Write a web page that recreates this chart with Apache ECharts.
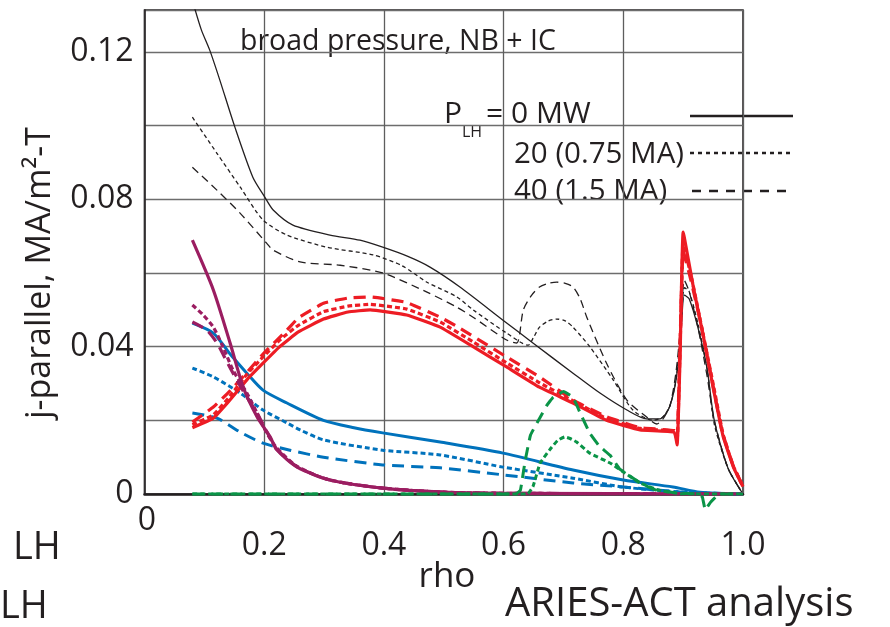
<!DOCTYPE html>
<html><head><meta charset="utf-8">
<script src="https://cdn.jsdelivr.net/npm/echarts@6/dist/echarts.min.js"></script>
<style>html,body{margin:0;padding:0;background:#fff}#c{width:890px;height:627px}</style>
</head><body><div id="c"></div>
<script>
// ---- data: [rho, j-parallel (MA/m^2-T)] ----
const blackSolid = [[0.08,0.134],[0.095,0.126],[0.109,0.1205],[0.126,0.1123],[0.151,0.0996],[0.181,0.086],[0.201,0.0806],[0.215,0.0771],[0.248,0.073],[0.31,0.0703],[0.36,0.0689],[0.398,0.067],[0.44,0.0645],[0.477,0.0616],[0.527,0.0562],[0.599,0.0472],[0.649,0.041],[0.716,0.0328],[0.761,0.0274],[0.806,0.0228],[0.839,0.0204],[0.861,0.0204],[0.875,0.0228],[0.886,0.029],[0.895,0.04],[0.902,0.054],[0.91,0.053],[0.925,0.045],[0.94,0.034],[0.952,0.02],[0.975,0.007],[1.0,0]];
const blackDotted = [[0.08,0.1023],[0.121,0.0925],[0.16,0.0833],[0.198,0.0744],[0.238,0.0703],[0.305,0.067],[0.382,0.0649],[0.43,0.062],[0.472,0.0575],[0.522,0.0535],[0.549,0.05],[0.605,0.0437],[0.641,0.0404],[0.65,0.0425],[0.66,0.0453],[0.675,0.047],[0.689,0.0475],[0.703,0.047],[0.716,0.0453],[0.744,0.04],[0.783,0.031],[0.816,0.0228],[0.85,0.02],[0.866,0.0209],[0.878,0.024],[0.888,0.031],[0.896,0.044],[0.902,0.056],[0.91,0.055],[0.925,0.046],[0.94,0.034],[0.952,0.019],[0.975,0.007],[1.0,0]];
const blackDashed = [[0.08,0.0887],[0.121,0.0825],[0.16,0.0762],[0.204,0.0681],[0.215,0.0662],[0.26,0.063],[0.327,0.0621],[0.398,0.06],[0.472,0.0548],[0.522,0.0507],[0.549,0.048],[0.605,0.0418],[0.622,0.041],[0.633,0.05],[0.647,0.054],[0.66,0.0562],[0.675,0.0572],[0.689,0.0575],[0.703,0.0572],[0.716,0.0562],[0.728,0.053],[0.739,0.048],[0.772,0.0355],[0.806,0.0255],[0.839,0.0209],[0.856,0.019],[0.866,0.0203],[0.878,0.024],[0.888,0.033],[0.896,0.046],[0.902,0.058],[0.91,0.055],[0.925,0.045],[0.94,0.032],[0.952,0.02],[0.975,0.007],[1.0,0]];
const redSolid = [[0.08,0.018],[0.115,0.0206],[0.14,0.025],[0.171,0.031],[0.198,0.0355],[0.226,0.04],[0.257,0.044],[0.299,0.0475],[0.34,0.0494],[0.377,0.05],[0.438,0.0486],[0.494,0.0453],[0.549,0.04],[0.605,0.0345],[0.66,0.029],[0.716,0.0247],[0.772,0.02],[0.828,0.0174],[0.885,0.0168],[0.89,0.0133],[0.895,0.038],[0.9,0.0711],[0.917,0.0562],[0.934,0.0426],[0.95,0.029],[0.967,0.0155],[0.984,0.0073],[1.0,0.002]];
const redDotted = [[0.08,0.0188],[0.115,0.0215],[0.14,0.026],[0.171,0.0325],[0.198,0.0372],[0.226,0.0418],[0.257,0.0458],[0.299,0.0495],[0.34,0.051],[0.377,0.0515],[0.438,0.0502],[0.494,0.0467],[0.549,0.0413],[0.605,0.0356],[0.66,0.0302],[0.716,0.0253],[0.772,0.0205],[0.828,0.0178],[0.885,0.017],[0.89,0.0145],[0.895,0.04],[0.9,0.068],[0.915,0.058],[0.932,0.0445],[0.95,0.03],[0.967,0.016],[0.984,0.0075],[1.0,0.002]];
const redDashed = [[0.08,0.0195],[0.115,0.0236],[0.143,0.028],[0.171,0.033],[0.198,0.038],[0.238,0.0445],[0.257,0.0478],[0.299,0.0518],[0.34,0.0532],[0.377,0.0535],[0.438,0.052],[0.494,0.048],[0.522,0.0455],[0.605,0.0372],[0.66,0.0318],[0.716,0.0255],[0.772,0.021],[0.828,0.018],[0.885,0.0172],[0.89,0.015],[0.895,0.042],[0.9,0.066],[0.913,0.058],[0.93,0.046],[0.948,0.031],[0.965,0.017],[0.983,0.008],[1.0,0.002]];
const blueSolid = [[0.08,0.0464],[0.115,0.0437],[0.143,0.038],[0.171,0.0328],[0.198,0.0282],[0.238,0.0247],[0.299,0.02],[0.35,0.018],[0.398,0.0166],[0.494,0.0141],[0.599,0.0111],[0.716,0.0065],[0.8,0.0038],[0.883,0.0019],[0.928,0.0005],[1.0,0]];
const blueDotted = [[0.08,0.0342],[0.115,0.0318],[0.16,0.0274],[0.198,0.0228],[0.238,0.0193],[0.26,0.0174],[0.299,0.0147],[0.398,0.0119],[0.494,0.0106],[0.599,0.0073],[0.716,0.0043],[0.8,0.0019],[0.9,0.0005],[1.0,0]];
const blueDashed = [[0.08,0.022],[0.121,0.0206],[0.16,0.0168],[0.198,0.0138],[0.243,0.0119],[0.299,0.01],[0.398,0.0079],[0.494,0.0071],[0.599,0.0052],[0.716,0.003],[0.8,0.0019],[0.9,0.0005],[1.0,0]];
const purpleSolid = [[0.08,0.0689],[0.115,0.0554],[0.143,0.041],[0.165,0.029],[0.188,0.021],[0.21,0.0155],[0.221,0.012],[0.255,0.0073],[0.31,0.0038],[0.398,0.0016],[0.5,0.0005],[0.6,0.0002],[1.0,0]];
const purpleDotted = [[0.08,0.0513],[0.098,0.0486],[0.115,0.0453],[0.131,0.04],[0.148,0.0336],[0.171,0.0274],[0.188,0.022],[0.204,0.0166],[0.221,0.0125],[0.255,0.0075],[0.31,0.0038],[0.398,0.0016],[0.5,0.0005],[0.6,0.0002],[1.0,0]];
const purpleDashed = [[0.08,0.0467],[0.104,0.0445],[0.121,0.041],[0.138,0.0358],[0.154,0.031],[0.171,0.0263],[0.188,0.022],[0.209,0.0155],[0.221,0.0122],[0.255,0.0074],[0.31,0.0038],[0.398,0.0016],[0.5,0.0005],[0.6,0.0002],[1.0,0]];
const greenDotted = [[0.08,0],[0.64,0],[0.649,0.002],[0.661,0.0084],[0.677,0.012],[0.69,0.0145],[0.702,0.0155],[0.712,0.015],[0.722,0.0141],[0.744,0.0111],[0.778,0.0084],[0.8,0.006],[0.828,0.003],[0.86,0.001],[0.9,0],[1.0,0]];
const greenDashed = [[0.08,0],[0.62,0],[0.628,0.001],[0.636,0.009],[0.645,0.016],[0.66,0.0205],[0.672,0.024],[0.683,0.0263],[0.7,0.0278],[0.716,0.0262],[0.728,0.022],[0.744,0.0165],[0.76,0.013],[0.778,0.0105],[0.794,0.0068],[0.81,0.005],[0.828,0.003],[0.856,0.001],[0.89,0.0003],[0.925,0],[0.932,-0.0008],[0.937,-0.0043],[0.945,-0.0024],[0.952,-0.0012],[0.96,0],[1.0,0]];
const xTicks = [0, 0.2, 0.4, 0.6, 0.8, 1.0];
const yTickLabels = ['0', '0.04', '0.08', '0.12'];

const BLACK = '#231f20', RED = '#ed1c24', BLUE = '#0072bc', PURPLE = '#9b1d61', GREEN = '#0a9447';
const FONT = 'Open Sans';
function ln(data, color, width, type, extra) {
  return Object.assign({ type: 'line', data: data, showSymbol: false, symbol: 'none', smooth: 0.25,
    lineStyle: { color: color, width: width, type: type, cap: 'butt', join: 'round' }, silent: true, animation: false }, extra || {});
}
const chart = echarts.init(document.getElementById('c'), null, { renderer: 'canvas' });
chart.setOption({
  backgroundColor: '#fff',
  animation: false,
  grid: { left: 144.5, right: 147, top: 10, bottom: 133, show: true, borderColor: BLACK, borderWidth: 1.5, backgroundColor: 'transparent' },
  xAxis: {
    type: 'value', min: 0, max: 1, interval: 0.2,
    axisLine: { show: true, lineStyle: { color: BLACK, width: 2.5 } },
    axisTick: { show: false },
    splitLine: { show: true, lineStyle: { color: '#5e5e5e', width: 1.3 } },
    axisLabel: { margin: 36, fontFamily: FONT, fontSize: 32, color: BLACK,
      formatter: function (v) { const i = xTicks.findIndex(t => Math.abs(t - v) < 1e-6); return i > 0 ? xTicks[i].toFixed(1) : ''; } }
  },
  yAxis: {
    type: 'value', min: 0, max: 0.1314, interval: 0.02,
    axisLine: { show: true, lineStyle: { color: BLACK, width: 1.5 } },
    axisTick: { show: false },
    splitLine: { show: true, lineStyle: { color: '#6d6d6d', width: 1.3 } },
    axisLabel: { margin: 11, fontFamily: FONT, fontSize: 32, color: BLACK, showMaxLabel: false,
      formatter: function (v) { const k = Math.round(v / 0.02); if (Math.abs(v - k * 0.02) > 1e-6 || k % 2) return ''; return yTickLabels[k / 2] || ''; } }
  },
  series: [
    ln(blackSolid, BLACK, 1.3, 'solid'),
    ln(blackDotted, BLACK, 1.3, [4, 3]),
    ln(blackDashed, BLACK, 1.3, [8, 5]),
    ln(blueSolid, BLUE, 3, 'solid'),
    ln(blueDotted, BLUE, 3, [5, 3]),
    ln(blueDashed, BLUE, 3, [12, 7]),
    ln(redSolid, RED, 3.2, 'solid', { smooth: 0.1 }),
    ln(redDotted, RED, 3.2, [5, 3], { smooth: 0.1 }),
    ln(redDashed, RED, 3.2, [12, 7], { smooth: 0.1 }),
    ln(purpleSolid, PURPLE, 3.2, 'solid'),
    ln(purpleDotted, PURPLE, 3.2, [5, 3]),
    ln(purpleDashed, PURPLE, 3.2, [12, 7]),
    ln(greenDotted, GREEN, 3, [5, 3], { smooth: 0.1 }),
    ln(greenDashed, GREEN, 3, [12, 7], { smooth: 0.1, clip: false })
  ],
  graphic: [
    { type: 'text', x: 240, y: 42, style: { text: 'broad pressure, NB + IC', fontFamily: FONT, fontSize: 28.5, fill: BLACK, verticalAlign: 'middle' } },
    { type: 'text', x: 444, y: 114, style: { text: 'P', fontFamily: FONT, fontSize: 30, fill: BLACK, verticalAlign: 'middle' } },
    { type: 'text', x: 462, y: 132, style: { text: 'LH', fontFamily: FONT, fontSize: 16, fill: BLACK, verticalAlign: 'middle' } },
    { type: 'text', x: 486, y: 114, style: { text: '= 0 MW', fontFamily: FONT, fontSize: 30, fill: BLACK, verticalAlign: 'middle' } },
    { type: 'text', x: 514, y: 155, style: { text: '20 (0.75 MA)', fontFamily: FONT, fontSize: 29.5, fill: BLACK, verticalAlign: 'middle' } },
    { type: 'text', x: 514, y: 192, style: { text: '40 (1.5 MA)', fontFamily: FONT, fontSize: 29.5, fill: BLACK, verticalAlign: 'middle' } },
    { type: 'line', shape: { x1: 690, y1: 116, x2: 793, y2: 116 }, style: { stroke: BLACK, lineWidth: 2.5 } },
    { type: 'line', shape: { x1: 690, y1: 153, x2: 793, y2: 153 }, style: { stroke: BLACK, lineWidth: 2.5, lineDash: [4, 4] } },
    { type: 'line', shape: { x1: 692, y1: 191, x2: 793, y2: 191 }, style: { stroke: BLACK, lineWidth: 2.5, lineDash: [9, 8] } },
    { type: 'text', x: 147, y: 521, style: { text: '0', fontFamily: FONT, fontSize: 32, fill: BLACK, align: 'center', verticalAlign: 'middle' } },
    { type: 'text', x: 447, y: 577, style: { text: 'rho', fontFamily: FONT, fontSize: 35, fill: BLACK, align: 'center', verticalAlign: 'middle' } },
    { type: 'text', x: 505, y: 605, style: { text: 'ARIES-ACT analysis', fontFamily: FONT, fontSize: 40, fill: BLACK, verticalAlign: 'middle' } },
    { type: 'text', x: 13, y: 548, style: { text: 'LH', fontFamily: FONT, fontSize: 38, fill: BLACK, verticalAlign: 'middle' } },
    { type: 'text', x: 0, y: 607, style: { text: 'LH', fontFamily: FONT, fontSize: 38, fill: BLACK, verticalAlign: 'middle' } },
    { type: 'text', x: 40, y: 273, rotation: Math.PI / 2, style: { text: 'j-parallel, MA/m²-T', fontFamily: FONT, fontSize: 34, fill: BLACK, align: 'center', verticalAlign: 'middle' } }
  ]
});
</script></body></html>
